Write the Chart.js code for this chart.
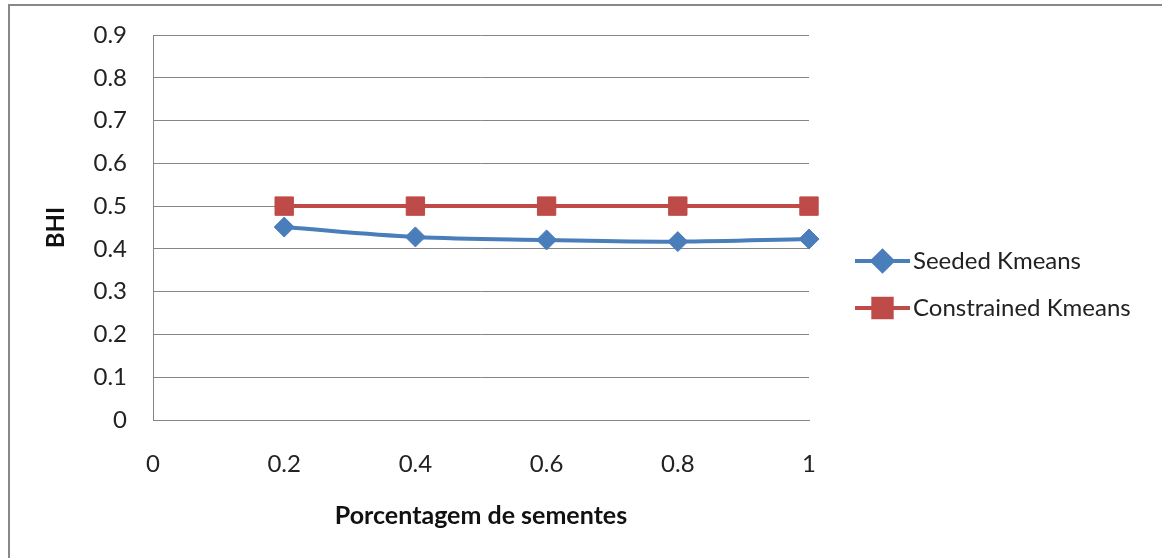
<!DOCTYPE html>
<html>
<head>
<meta charset="utf-8">
<script src="https://cdn.jsdelivr.net/npm/chart.js@4/dist/chart.umd.min.js"></script>
<style>
  html, body { margin: 0; padding: 0; background: #fff; overflow: hidden; }
  #wrap { position: absolute; left: 0; top: 0; width: 1162px; height: 558px; }
  #frame { position: absolute; left: 8px; top: 4px; width: 1200px; height: 600px; border: 2px solid #888; pointer-events: none; }
</style>
</head>
<body>
<div id="wrap"><canvas id="chart" width="1162" height="558"></canvas></div>
<div id="frame"></div>
<script>
// ===== Data =====
const seedPct = [0.2, 0.4, 0.6, 0.8, 1];
const seededKmeans = [0.451, 0.428, 0.421, 0.417, 0.423];
const constrainedKmeans = [0.5, 0.5, 0.5, 0.5, 0.5];
const xTicks = [0, 0.2, 0.4, 0.6, 0.8, 1];
const yTicks = [0, 0.1, 0.2, 0.3, 0.4, 0.5, 0.6, 0.7, 0.8, 0.9];

const FONT = "Lato, 'Open Sans', sans-serif";
const BLUE = "#4a7ebb";
const RED = "#be4b48";
const GRID = "#868686";

function toPoints(vals) {
  return seedPct.map((x, i) => ({ x, y: vals[i] }));
}

// ===== Legend (line + marker, like the office chart) =====
const sideLegend = {
  id: "sideLegend",
  afterDraw(chart) {
    const ctx = chart.ctx;
    const a = chart.chartArea;
    const x0 = a.right + 46, x1 = a.right + 101;
    const rows = [a.top + 226, a.top + 273];
    ctx.save();
    chart.data.datasets.forEach((ds, i) => {
      const y = rows[i];
      ctx.strokeStyle = ds.borderColor;
      ctx.lineWidth = 4;
      ctx.beginPath();
      ctx.moveTo(x0, y);
      ctx.lineTo(x1, y);
      ctx.stroke();
      const mx = (x0 + x1) / 2;
      Chart.helpers.drawPoint(ctx, {
        pointStyle: ds.pointStyle,
        radius: ds.pointRadius,
        borderWidth: 1
      }, mx, y);
      ctx.fillStyle = ds.backgroundColor;
      ctx.fill();
      ctx.fillStyle = "#222";
      ctx.font = "24px " + FONT;
      ctx.textBaseline = "middle";
      ctx.textAlign = "left";
      ctx.fillText(ds.label, x1 + 3, y);
    });
    ctx.restore();
  }
};

new Chart(document.getElementById("chart"), {
  type: "line",
  data: {
    datasets: [
      {
        label: "Seeded Kmeans",
        data: toPoints(seededKmeans),
        borderColor: BLUE,
        backgroundColor: BLUE,
        borderWidth: 4,
        tension: 0.35,
        pointStyle: "rectRot",
        pointRadius: 10,
        pointBorderWidth: 1,
        clip: false
      },
      {
        label: "Constrained Kmeans",
        data: toPoints(constrainedKmeans),
        borderColor: RED,
        backgroundColor: RED,
        borderWidth: 4,
        tension: 0,
        pointStyle: "rect",
        pointRadius: 13,
        pointBorderWidth: 1,
        clip: false
      }
    ]
  },
  options: {
    responsive: false,
    animation: false,
    layout: { padding: { left: 0, top: 35, right: 353, bottom: 0 } },
    plugins: {
      legend: { display: false },
      tooltip: { enabled: false }
    },
    scales: {
      x: {
        type: "linear",
        min: 0,
        max: 1,
        afterBuildTicks: s => { s.ticks = xTicks.map(v => ({ value: v })); },
        afterFit: s => { s.height = 138; s.paddingLeft = 0; s.paddingRight = 0; },
        grid: { display: false, drawTicks: false },
        border: { display: true, color: GRID, width: 1 },
        ticks: {
          padding: 30,
          color: "#222",
          font: { family: FONT, size: 24 },
          callback: v => String(v)
        },
        title: {
          display: true,
          text: "Porcentagem de sementes",
          color: "#111",
          font: { family: FONT, size: 25, weight: "bold" },
          padding: { top: 0, bottom: 27 }
        }
      },
      y: {
        min: 0,
        max: 0.9,
        afterBuildTicks: s => { s.ticks = yTicks.map(v => ({ value: v })); },
        afterFit: s => { s.width = 153; s.paddingTop = 0; s.paddingBottom = 0; },
        grid: { color: GRID, lineWidth: 1, drawTicks: false },
        border: { display: true, color: GRID, width: 1 },
        ticks: {
          padding: 26,
          color: "#222",
          font: { family: FONT, size: 24 },
          callback: v => String(v)
        },
        title: {
          display: true,
          text: "BHI",
          color: "#111",
          font: { family: FONT, size: 24, weight: "bold" },
          padding: { top: 42, bottom: 0 }
        }
      }
    }
  },
  plugins: [sideLegend]
});
</script>
</body>
</html>
